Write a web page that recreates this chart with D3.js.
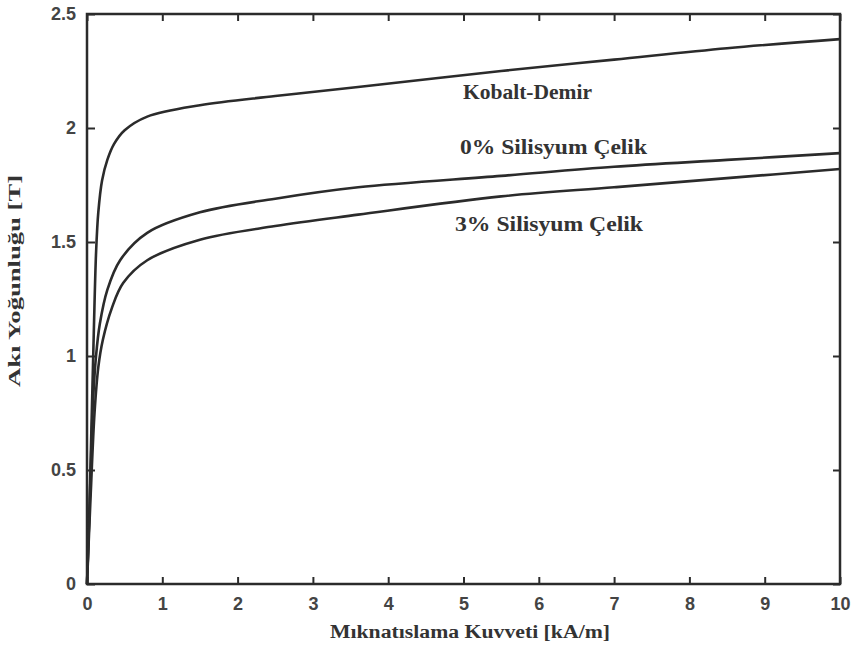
<!DOCTYPE html>
<html><head><meta charset="utf-8">
<script src="https://cdn.jsdelivr.net/npm/d3@7"></script>
<style>body{margin:0;background:#fff}</style>
</head><body>
<svg id="c" width="859" height="652"></svg>
<script>
const xTicks = [0,1,2,3,4,5,6,7,8,9,10];
const yTicks = [0,0.5,1,1.5,2,2.5];
const yTickLabels = ["0","0.5","1","1.5","2","2.5"];
const seriesNames = ["Kobalt-Demir","0% Silisyum Çelik","3% Silisyum Çelik"];
const kobaltH = [0,0.03,0.06,0.09,0.12,0.15,0.2,0.27,0.36,0.5,0.8,1.5,2.5,3.6,5.5,7,8.5,10];
const kobaltB = [0,0.3,0.7,1.1,1.45,1.63,1.77,1.86,1.93,1.99,2.05,2.10,2.14,2.18,2.25,2.30,2.35,2.39];
const si0H = [0,0.04,0.08,0.12,0.17,0.27,0.44,0.8,1.5,2.5,3.6,5.5,7,8.5,10];
const si0B = [0,0.4,0.8,1.0,1.14,1.29,1.42,1.54,1.63,1.69,1.74,1.79,1.83,1.86,1.89];
const si3H = [0,0.05,0.1,0.15,0.21,0.33,0.48,0.8,1.5,2.5,3.6,5.5,7,8.5,10];
const si3B = [0,0.4,0.75,0.95,1.07,1.21,1.32,1.42,1.51,1.57,1.62,1.70,1.74,1.78,1.82];

const svg = d3.select("#c");
const L=87, R=840, T=14, B=584;
const x = d3.scaleLinear().domain([0,10]).range([L,R]);
const y = d3.scaleLinear().domain([0,2.5]).range([B,T]);
const ink = "#2b2b2b";

svg.append("rect").attr("x",L).attr("y",T).attr("width",R-L).attr("height",B-T)
  .attr("fill","none").attr("stroke",ink).attr("stroke-width",2.5);

const tickFont = "'Liberation Sans', Arial, sans-serif";
const gx = svg.append("g").attr("transform",`translate(0,${B})`)
  .call(d3.axisBottom(x).tickValues(xTicks).tickSizeInner(-7).tickSizeOuter(0).tickPadding(13).tickFormat(d3.format("d")));
gx.select(".domain").remove();
gx.selectAll("line").attr("stroke",ink).attr("stroke-width",2);
gx.selectAll("text").attr("font-family",tickFont).attr("font-size",18).attr("font-weight","bold").attr("fill","#444");
const gt = svg.append("g").attr("transform",`translate(0,${T})`)
  .call(d3.axisTop(x).tickValues(xTicks).tickSizeInner(-7).tickSizeOuter(0).tickFormat(""));
gt.select(".domain").remove();
gt.selectAll("line").attr("stroke",ink).attr("stroke-width",2);
const gy = svg.append("g").attr("transform",`translate(${L},0)`)
  .call(d3.axisLeft(y).tickValues(yTicks).tickSizeInner(-8).tickSizeOuter(0).tickPadding(11)
    .tickFormat((d,i)=>yTickLabels[i]));
gy.select(".domain").remove();
gy.selectAll("line").attr("stroke",ink).attr("stroke-width",2);
gy.selectAll("text").attr("font-family",tickFont).attr("font-size",18).attr("font-weight","bold").attr("fill","#444");
const gr = svg.append("g").attr("transform",`translate(${R},0)`)
  .call(d3.axisRight(y).tickValues(yTicks).tickSizeInner(-7).tickSizeOuter(0).tickFormat(""));
gr.select(".domain").remove();
gr.selectAll("line").attr("stroke",ink).attr("stroke-width",2);

const series = [
  {name:seriesNames[0], H:kobaltH, Bv:kobaltB},
  {name:seriesNames[1], H:si0H, Bv:si0B},
  {name:seriesNames[2], H:si3H, Bv:si3B}
];
const line = d3.line().x(d=>x(d[0])).y(d=>y(d[1])).curve(d3.curveCatmullRom.alpha(0.5));
series.forEach(s=>{
  svg.append("path").datum(s.H.map((h,i)=>[h,s.Bv[i]]))
    .attr("d",line).attr("fill","none").attr("stroke",ink).attr("stroke-width",2.6);
});

const serif = "'Liberation Serif','Times New Roman',serif";
const labelPos = [[463,99],[460,154],[455,231]];
const labelW = [129,187,188];
seriesNames.forEach((n,i)=>{
  svg.append("text").attr("x",labelPos[i][0]).attr("y",labelPos[i][1])
    .attr("font-family",serif).attr("font-weight","bold").attr("font-size",21).attr("fill","#333")
    .attr("textLength",labelW[i]).attr("lengthAdjust","spacingAndGlyphs").text(n);
});

svg.append("text").attr("x",470).attr("y",638).attr("text-anchor","middle")
  .attr("font-family",serif).attr("font-weight","bold").attr("font-size",18).attr("fill","#333")
  .attr("textLength",280).attr("lengthAdjust","spacingAndGlyphs")
  .text("Mıknatıslama Kuvveti [kA/m]");
svg.append("text").attr("transform","translate(20,281) rotate(-90)").attr("text-anchor","middle")
  .attr("font-family",serif).attr("font-weight","bold").attr("font-size",16).attr("fill","#333")
  .attr("textLength",212).attr("lengthAdjust","spacingAndGlyphs")
  .text("Akı Yoğunluğu [T]");
</script>
</body></html>
